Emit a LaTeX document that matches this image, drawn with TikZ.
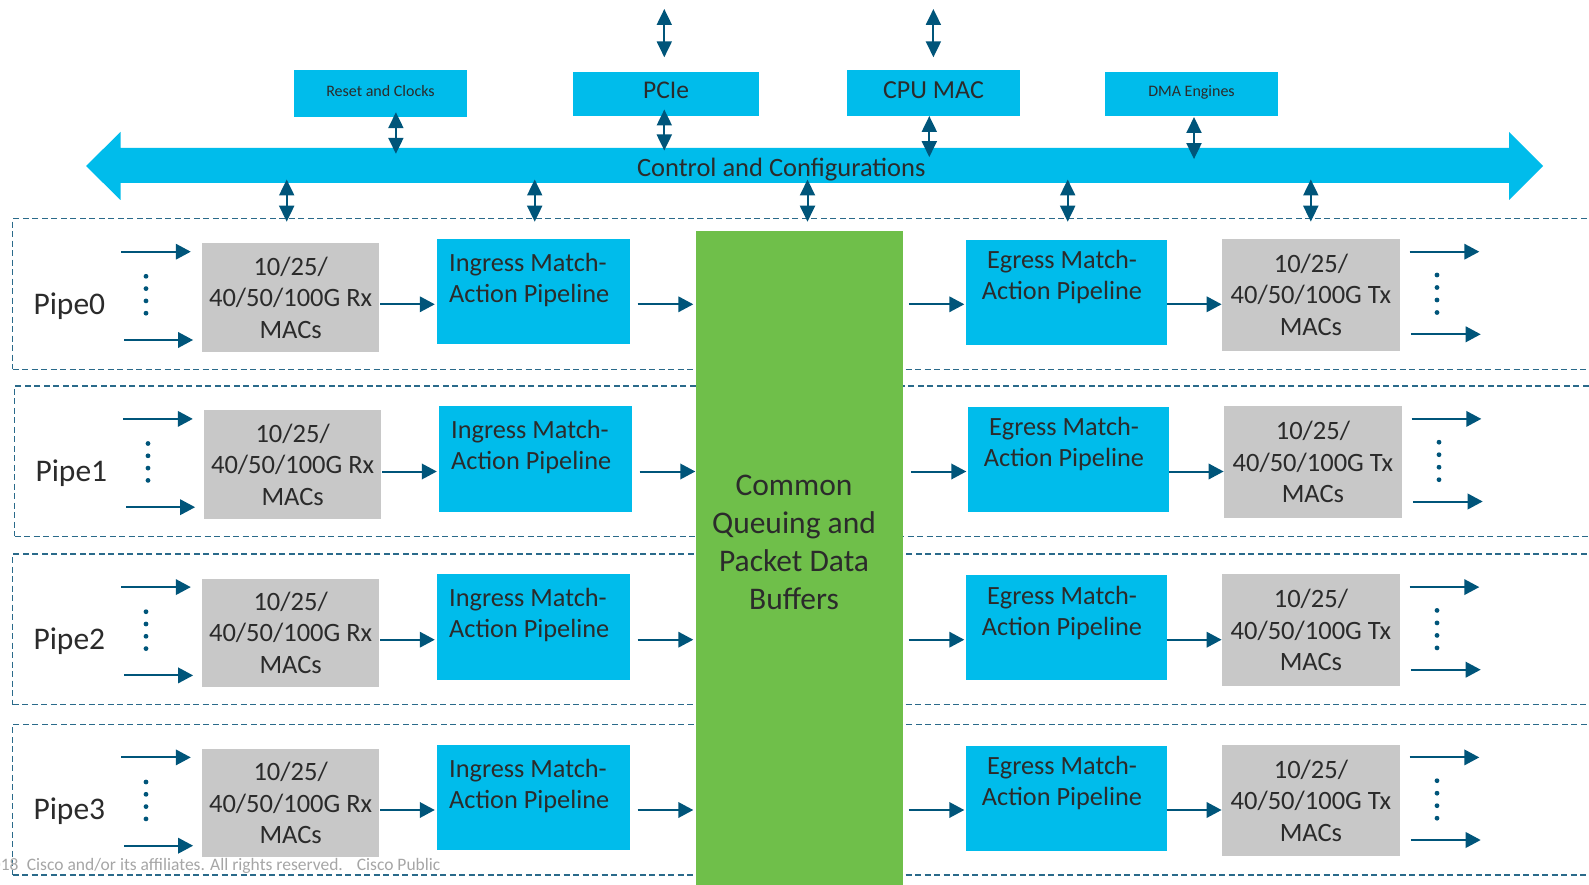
\documentclass[tikz,border=0pt]{standalone}
\usepackage{fontspec}
\setmainfont{Carlito}
\usetikzlibrary{arrows.meta,calc}
\definecolor{cbox}{HTML}{00BCEB}
\definecolor{gbox}{HTML}{C8C8C8}
\definecolor{grn}{HTML}{6FBF4A}
\definecolor{dblue}{HTML}{00557A}
\definecolor{dashcol}{HTML}{2A6A8A}
\definecolor{txt}{HTML}{2B2B2B}
\definecolor{cpgray}{HTML}{A6A6A6}
\newcommand\bxfont{\fontsize{26.5}{31.5}\selectfont}
\newcommand\pipefont{\fontsize{26.3}{31}\selectfont}
\begin{document}
\begin{tikzpicture}[x=1pt,y=-1pt,
  cyanbox/.style={fill=cbox, draw=none, inner sep=0pt, text=txt},
  graybox/.style={fill=gbox, draw=none, inner sep=0pt, text=txt, align=center, font=\bxfont},
  ptext/.style={inner sep=0pt, text=txt, font=\pipefont},
  harr/.style={draw=dblue, line width=2pt, -{Triangle[length=15pt,width=15.5pt]}},
  varr/.style={draw=dblue, line width=2pt, {Triangle[length=16pt,width=15pt]}-{Triangle[length=16pt,width=15pt]}},
  pipebox/.style={draw=dashcol, line width=1.4pt, dash pattern=on 6pt off 3.5pt, inner sep=0pt}
]
\clip (0,0) rectangle (1589,885);
\fill[white] (0,0) rectangle (1589,885);

% pipe rows
\foreach \i/\dx/\dy in {0/0/0,1/2/167.2,2/0/335.4,3/0/505.7}{
\begin{scope}[shift={(\dx,\dy)}]
  \node[pipebox, anchor=north west, minimum width=1600pt, minimum height=150.5pt] (pb\i) at (12,218) {};
  \coordinate (ay\i) at (0,304.3);
  \node[graybox, minimum width=176.7pt, minimum height=108.4pt] (rx\i) at (290.65,297.4) {10/25/\\40/50/100G Rx\\MACs};
  \node[cyanbox, minimum width=192.7pt, minimum height=105.3pt] (ing\i) at (533.65,291.65) {};
  \node[ptext, anchor=west, align=left] (ingt\i) at (449,279.9) {Ingress Match-\\Action Pipeline};
  \node[cyanbox, minimum width=200.8pt, minimum height=105pt] (eg\i) at (1066.3,292.5) {};
  \node[ptext, align=center] (egt\i) at (1062,277.2) {Egress Match-\\Action Pipeline};
  \node[graybox, minimum width=178.2pt, minimum height=111.7pt] (tx\i) at (1310.9,294.8) {10/25/\\40/50/100G Tx\\MACs};
  \node[anchor=base west, inner sep=0pt, text=txt, font=\fontsize{31.5}{36}\selectfont] (pl\i) at (33.3,314) {Pipe\i};
  % inputs
  \coordinate (ina\i) at (121,251.7);
  \coordinate (inb\i) at (124,340);
  \draw[harr] (ina\i) -- ($(rx\i.west |- ina\i)+(-11.3,0)$);
  \draw[harr] (inb\i) -- ($(rx\i.west |- inb\i)+(-9,0)$);
  \foreach \yy in {276.3,288.6,300.9,313.2}{\fill[dblue] (146,\yy) circle (2.4pt);}
  % chain
  \draw[harr] ($(rx\i.east |- ay\i)+(1,0)$) -- ($(ing\i.west |- ay\i)+(-2.3,0)$);
  \draw[harr] ($(ing\i.east |- ay\i)+(7.5,0)$) -- ($(696,0 |- ay\i)+(-2.7,0)$);
  \draw[harr] ($(903,0 |- ay\i)+(5.9,0)$) -- ($(eg\i.west |- ay\i)+(-1.4,0)$);
  \draw[harr] (eg\i.east |- ay\i) -- (tx\i.west |- ay\i);
  % outputs
  \coordinate (outa\i) at (1479.3,251.7);
  \coordinate (outb\i) at (1480.7,334.3);
  \draw[harr] ($(tx\i.east |- outa\i)+(9.3,0)$) -- (outa\i);
  \draw[harr] ($(tx\i.east |- outb\i)+(10.7,0)$) -- (outb\i);
  \foreach \yy in {275,287.5,300,312.5}{\fill[dblue] (1437,\yy) circle (2.4pt);}
\end{scope}
}

% central buffer
\node[fill=grn, inner sep=0pt, anchor=north west, minimum width=207pt, minimum height=660pt] (green) at (696,231) {};
\node[inner sep=0pt, align=center, text=txt, font=\fontsize{31.5}{38.2}\selectfont] (greentxt) at (794,542.2) {Common\\Queuing and\\Packet Data\\Buffers};

% control bar
\fill[cbox] (86,166) -- (120.5,132) -- (120.5,148) -- (1509,148) -- (1509,132) -- (1543,166) -- (1509,200) -- (1509,183) -- (120.5,183) -- (120.5,200) -- cycle;
\node[inner sep=0pt, minimum width=1388.5pt, minimum height=35pt] (bar) at (814.75,165.5) {};
\node[anchor=base, inner sep=0pt, text=txt, font=\fontsize{26.5}{30}\selectfont] (bartxt) at (781.3,177) {Control and Configurations};

% top boxes
\node[cyanbox, text depth=6pt, minimum width=173pt, minimum height=47pt, font=\fontsize{16}{19}\selectfont] (rst) at (380.5,93.5) {Reset and Clocks};
\node[cyanbox, text depth=6pt, minimum width=186pt, minimum height=44pt, font=\fontsize{25.5}{30}\selectfont] (pcie) at (666,93.7) {PCIe};
\node[cyanbox, text depth=5pt, minimum width=173pt, minimum height=46pt, font=\fontsize{26}{30}\selectfont] (cpu) at (933.5,92.8) {CPU MAC};
\node[cyanbox, text depth=6pt, minimum width=173pt, minimum height=44pt, font=\fontsize{16}{19}\selectfont] (dma) at (1191.5,93.8) {DMA Engines};

% vertical arrows
\coordinate (pcieup) at (664.3,9);
\coordinate (pciedn) at (664.3,57.3);
\coordinate (cpuup) at (933.4,9);
\coordinate (cpudn) at (933.4,57.3);
\draw[varr] (pcieup) -- (pciedn);
\draw[varr] (cpuup) -- (cpudn);
\draw[varr] ($(rst.south)+(15.4,-5)$) -- ($(rst.south |- bar.north)+(15.4,6)$);
\draw[varr] ($(pcie.south)+(-1.7,-6.4)$) -- ($(pcie.south |- bar.north)+(-1.7,2.7)$);
\draw[varr] ($(cpu.south)+(-4.2,0)$) -- ($(cpu.south |- bar.north)+(-4.2,9.3)$);
\draw[varr] ($(dma.south)+(2.5,1)$) -- ($(dma.south |- bar.north)+(2.5,11.3)$);
\foreach \xx in {286.7,534.7,807.5,1067.7,1310.8}{
  \draw[varr] ($(\xx,0 |- bar.south)+(0,-3.7)$) -- ($(\xx,0 |- pb0.north)+(0,3.7)$);
}

% footer
\node[anchor=base west, inner sep=0pt, text=cpgray, font=\fontsize{17.5}{20}\selectfont] (copy) at (26.7,870.7) {\llap{\textcopyright{} 2018\hspace{8.4pt}}Cisco and/or its affiliates. All rights reserved.\hspace{14pt}Cisco Public};
\end{tikzpicture}
\end{document}
